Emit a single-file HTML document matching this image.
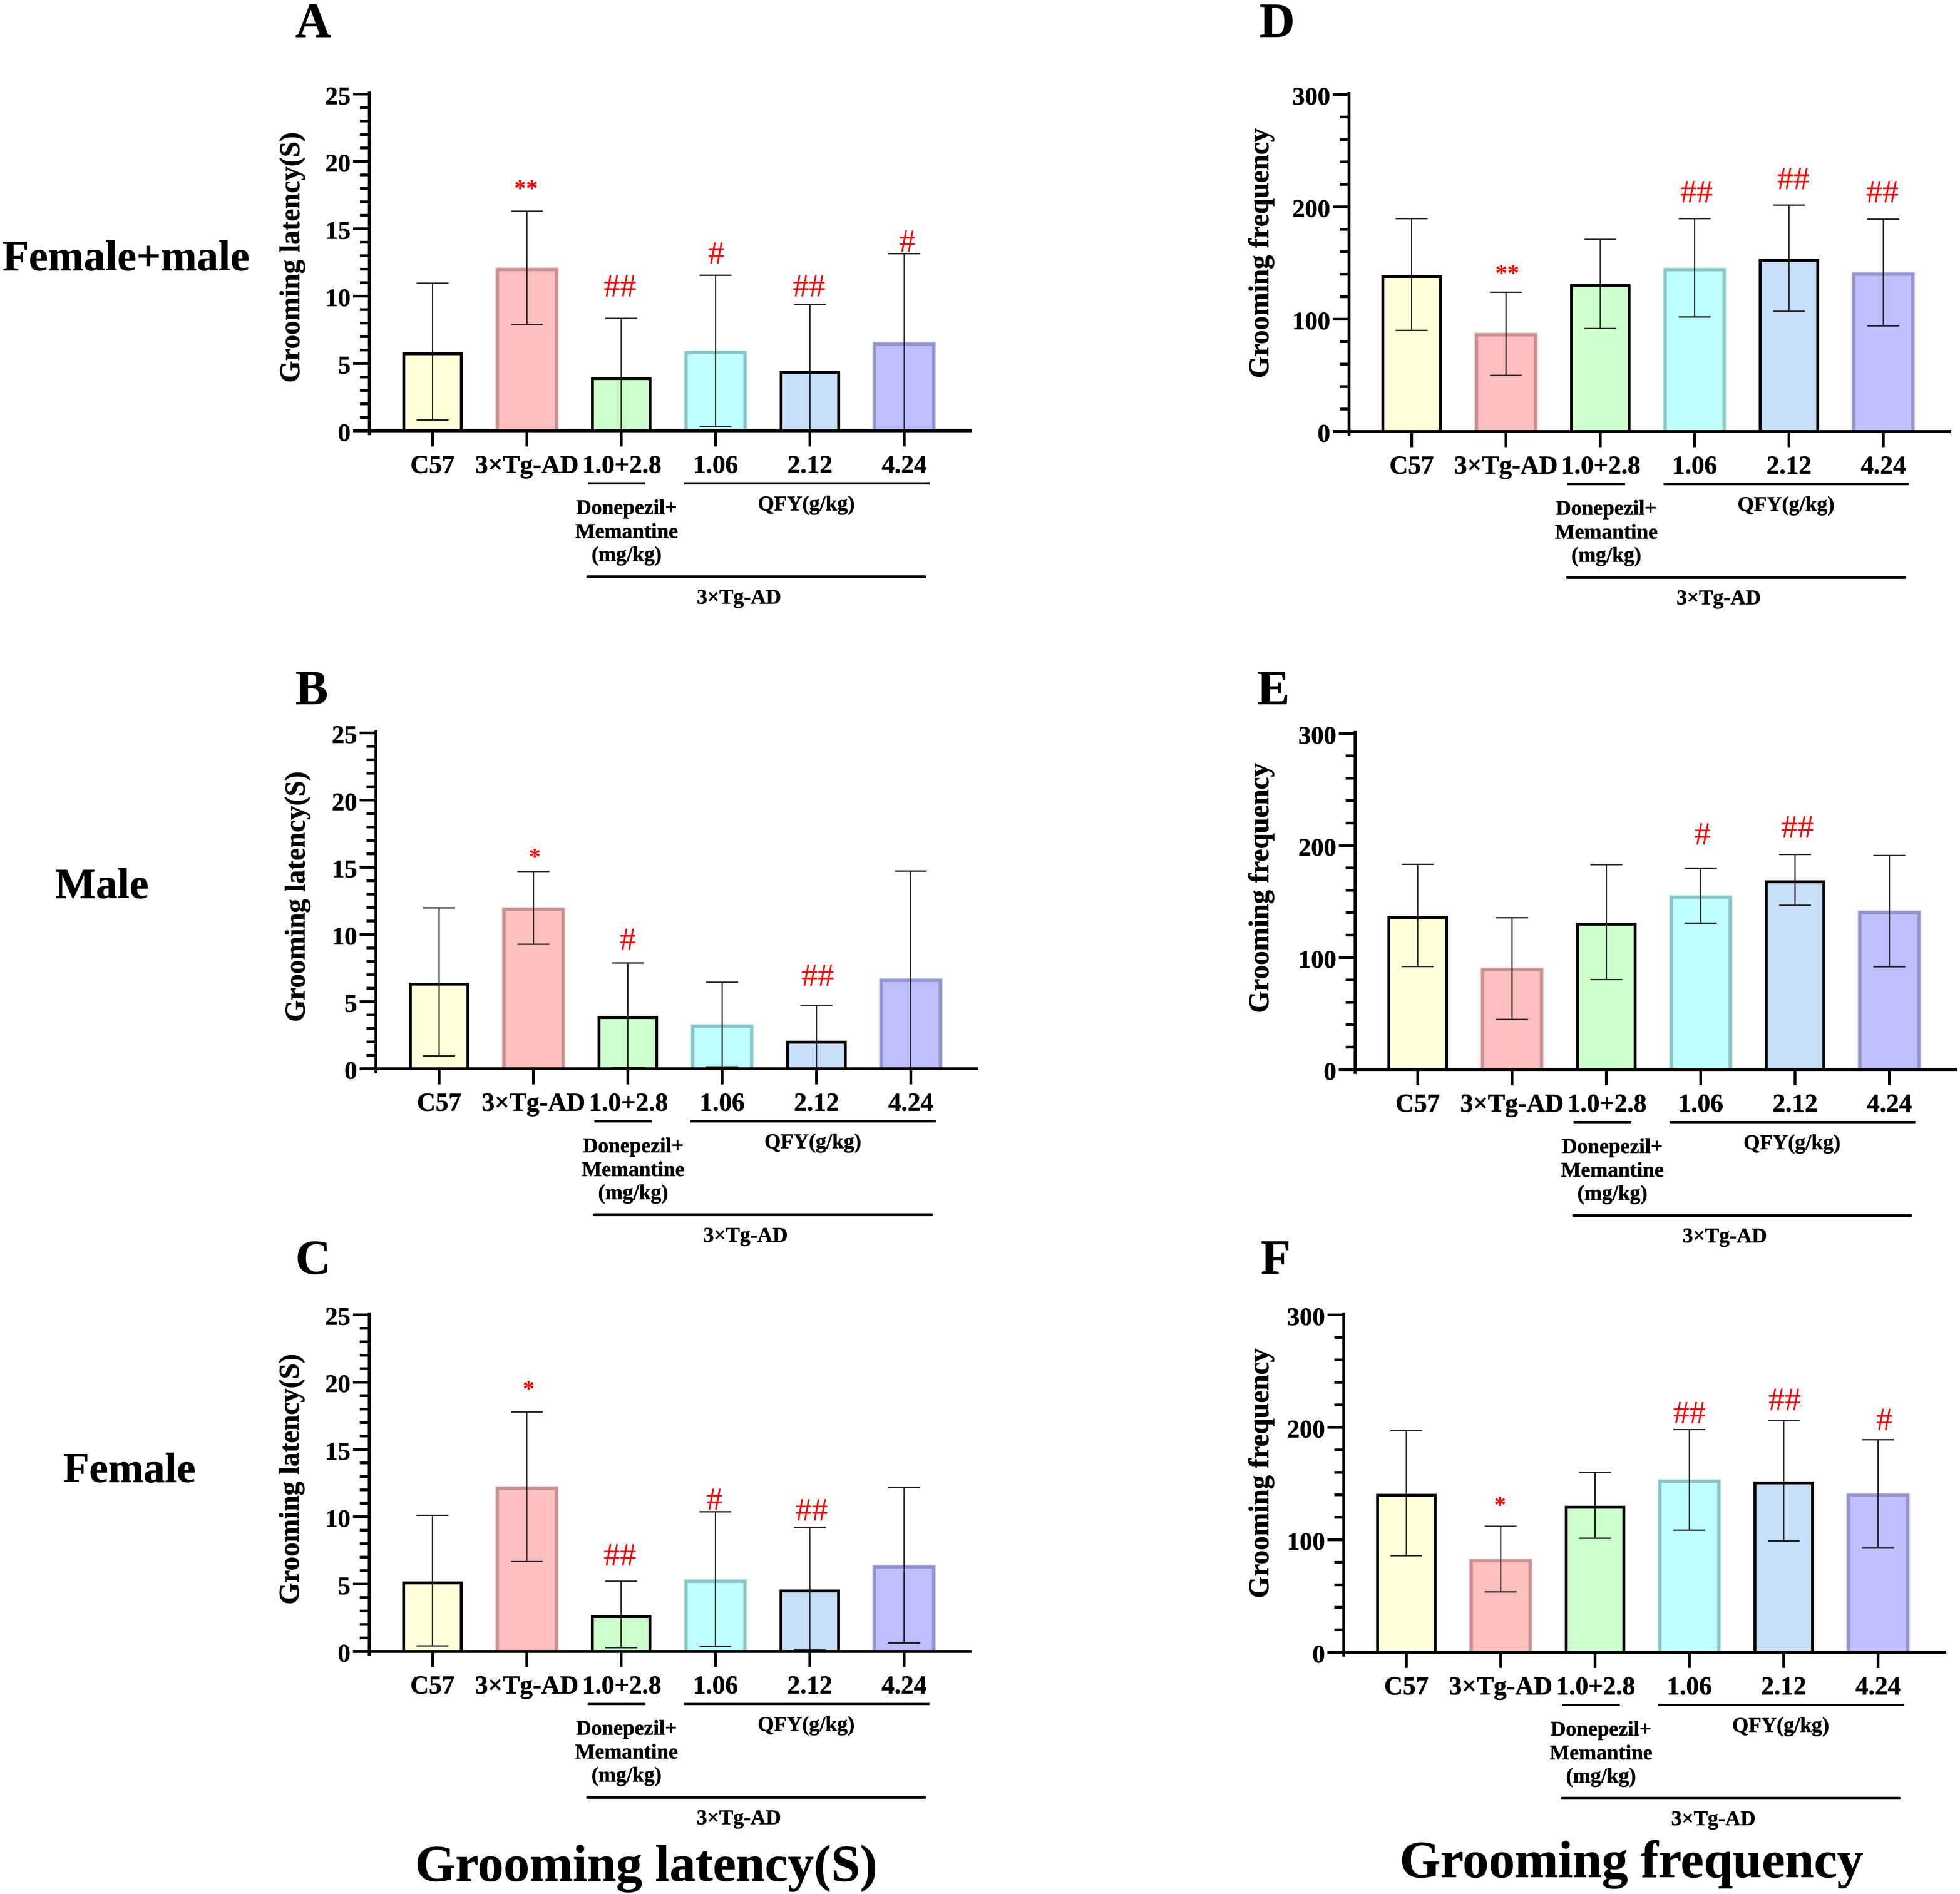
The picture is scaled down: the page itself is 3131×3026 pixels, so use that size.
<!DOCTYPE html>
<html lang="en">
<head>
<meta charset="utf-8">
<title>Grooming latency and frequency</title>
<style>
html,body{margin:0;padding:0;background:#fff;}
svg{display:block;}
text{font-family:"Liberation Serif",serif;font-weight:700;fill:#000;stroke:#000;stroke-width:0.5px;}
</style>
</head>
<body>
<svg id="figure" xmlns="http://www.w3.org/2000/svg" width="3131" height="3026" viewBox="0 0 3131 3026">
  <rect x="0" y="0" width="3131" height="3026" fill="#fff"/>
  <text x="472" y="59" font-size="78">A</text>
  <text x="472" y="1125" font-size="78">B</text>
  <text x="472" y="2035" font-size="78">C</text>
  <text x="2012" y="59" font-size="78">D</text>
  <text x="2008" y="1125" font-size="78">E</text>
  <text x="2014" y="2035" font-size="78">F</text>
  <text x="4" y="432" font-size="68.8">Female+male</text>
  <text x="88" y="1435" font-size="69">Male</text>
  <text x="101" y="2368" font-size="68">Female</text>
  <text x="663" y="3005" font-size="83">Grooming latency(S)</text>
  <text x="2236" y="2999" font-size="83.4">Grooming frequency</text>
</svg>
<script>
const categories = ["C57", "3×Tg-AD", "1.0+2.8", "1.06", "2.12", "4.24"];
const latencyTicks = [0, 5, 10, 15, 20, 25];
const frequencyTicks = [0, 100, 200, 300];
const latencyMinorPerMajor = 4;
const frequencyMinorPerMajor = 4;

const meansA = [5.72, 11.97, 3.88, 5.8, 4.35, 6.43];
const upperA = [10.96, 16.3, 8.35, 11.55, 9.36, 13.15];
const lowerA = [0.8, 7.88, null, 0.3, null, null];
const markTextA = ["", "**", "##", "#", "##", "#"];
const markLevelA = [null, 18.28, 10.78, 13.2, 10.78, 14.1];

const meansB = [6.3, 11.86, 3.81, 3.16, 1.98, 6.58];
const upperB = [11.98, 14.69, 7.88, 6.44, 4.72, 14.72];
const lowerB = [0.96, 9.27, 0.08, 0.14, null, null];
const markTextB = ["", "*", "#", "", "##", ""];
const markLevelB = [null, 16.05, 9.66, null, 6.98, null];

const meansC = [5.09, 12.1, 2.59, 5.21, 4.49, 6.26];
const upperC = [10.11, 17.79, 5.21, 10.37, 9.2, 12.17];
const lowerC = [0.41, 6.67, 0.28, 0.35, 0.1, 0.63];
const markTextC = ["", "*", "##", "#", "##", ""];
const markLevelC = [null, 19.78, 7.17, 11.31, 10.52, null];

const meansD = [138, 86, 130, 144, 152.5, 140];
const upperD = [189.5, 124, 171, 189.5, 201.6, 189];
const lowerD = [90, 50, 91.7, 102, 107, 94];
const markTextD = ["", "**", "", "##", "##", "##"];
const markLevelD = [null, 144.3, null, 213.6, 225.4, 213.6];

const meansE = [135.8, 89, 129.7, 153.7, 167.6, 139.9];
const upperE = [183.2, 135.5, 182.9, 179.8, 192, 191];
const lowerE = [92, 44.7, 80.3, 130.7, 146.6, 91.8];
const markTextE = ["", "", "", "#", "##", ""];
const markLevelE = [null, null, null, 210.6, 216.7, null];

const meansF = [139.6, 81.3, 129, 152, 150.6, 139.6];
const upperF = [197, 112, 160, 198, 206, 189];
const lowerF = [85.9, 53.7, 101.4, 108.6, 99, 92.7];
const markTextF = ["", "*", "", "##", "##", "#"];
const markLevelF = [null, 134.3, null, 213.4, 225, 207.3];

const NS = "http://www.w3.org/2000/svg";
const root = document.getElementById("figure");

const barStyles = [
  {fill:"#ffffdc", stroke:"#000000", halo:null, inset:92, sw:4.6},
  {fill:"#ffbfbf", stroke:"#c49292", halo:"#fbd0d0", inset:94, sw:5},
  {fill:"#ccffcc", stroke:"#000000", halo:null, inset:92, sw:4.6},
  {fill:"#bfffff", stroke:"#8cc4c4", halo:"#c8f6f6", inset:94, sw:5},
  {fill:"#c8dff8", stroke:"#000000", halo:null, inset:92, sw:4.6},
  {fill:"#bfbfff", stroke:"#9494c8", halo:"#cfcff8", inset:94, sw:5}
];

const panels = [
  {id:"a", ox:590,    oy:688.3,  h:538,   first:101,   yTitle:"Grooming latency(S)", ticks:latencyTicks, minor:latencyMinorPerMajor, means:meansA, upper:upperA, lower:lowerA, markText:markTextA, markLevel:markLevelA, markShift:[0,-1.5,-2,1,-1.5,5], titleX:-112, titleY:-277},
  {id:"b", ox:600.5,  oy:1707.6, h:536.6, first:101,   yTitle:"Grooming latency(S)", ticks:latencyTicks, minor:latencyMinorPerMajor, means:meansB, upper:upperB, lower:lowerB, markText:markTextB, markLevel:markLevelB, markShift:[0,2,0,0,2,0], titleX:-114, titleY:-275},
  {id:"c", ox:589.8,  oy:2638.4, h:537.7, first:101,   yTitle:"Grooming latency(S)", ticks:latencyTicks, minor:latencyMinorPerMajor, means:meansC, upper:upperC, lower:lowerC, markText:markTextC, markLevel:markLevelC, markShift:[0,3,-2,-1.5,3,0], titleX:-113, titleY:-275},
  {id:"d", ox:2155,   oy:689.4,  h:538.4, first:100,   yTitle:"Grooming frequency",  ticks:frequencyTicks, minor:frequencyMinorPerMajor, means:meansD, upper:upperD, lower:lowerD, markText:markTextD, markLevel:markLevelD, markShift:[0,2,0,3,7,-1.5], titleX:-129, titleY:-285},
  {id:"e", ox:2164.7, oy:1708.8, h:537,   first:100,   yTitle:"Grooming frequency",  ticks:frequencyTicks, minor:frequencyMinorPerMajor, means:meansE, upper:upperE, lower:lowerE, markText:markTextE, markLevel:markLevelE, markShift:[0,0,0,3,4,0], titleX:-138.6, titleY:-290},
  {id:"f", ox:2146.6, oy:2639.8, h:539,   first:100,   yTitle:"Grooming frequency",  ticks:frequencyTicks, minor:frequencyMinorPerMajor, means:meansF, upper:upperF, lower:lowerF, markText:markTextF, markLevel:markLevelF, markShift:[0,-1,0,0,1.5,10], titleX:-120.6, titleY:-286}
];

function make(tag, attrs, parent) {
  const el = document.createElementNS(NS, tag);
  for (const k in attrs) el.setAttribute(k, attrs[k]);
  parent.appendChild(el);
  return el;
}

function barPath(cx, width, top, base) {
  const l = cx - width / 2;
  const r = cx + width / 2;
  return "M" + l + " " + base + "L" + l + " " + top + "L" + r + " " + top + "L" + r + " " + base;
}

function drawPanel(p) {
  const g = make("g", {}, root);
  
  

  const yMax = p.ticks[p.ticks.length - 1];
  const yScale = function (v) { return p.oy - (v / yMax) * p.h; };
  const xScale = function (i) { return p.ox + p.first + i * 150.7; };

  // bars
  p.means.forEach(function (m, i) {
    const s = barStyles[i];
    const cx = xScale(i);
    const top = yScale(m);
    const d = barPath(cx, s.inset, top, p.oy);
    if (s.halo) {
      const halo = make("path", {d:d, fill:"none", stroke:s.halo, "stroke-width":s.sw + 3}, g);
      
      
    }
    const bar = make("path", {d:d, fill:s.fill, stroke:s.stroke, "stroke-width":s.sw}, g);
    
    
  });

  // error bars
  p.means.forEach(function (m, i) {
    const cx = xScale(i);
    const yTop = yScale(p.upper[i]);
    const hasLower = p.lower[i] !== null;
    const yBot = hasLower ? yScale(p.lower[i]) : p.oy;
    const stem = make("line", {x1:cx, x2:cx, y1:yTop, y2:yBot, stroke:"#1c1c1c", "stroke-width":2}, g);
    
    
    const capTop = make("line", {x1:cx - 25.5, x2:cx + 25.5, y1:yTop, y2:yTop, stroke:"#1c1c1c", "stroke-width":2.2}, g);
    
    
    if (hasLower) {
      const capBot = make("line", {x1:cx - 25.5, x2:cx + 25.5, y1:yBot, y2:yBot, stroke:"#1c1c1c", "stroke-width":2.2}, g);
      
      
    }
  });

  // significance marks
  p.markText.forEach(function (txt, i) {
    if (!txt) return;
    const star = txt.charAt(0) === "*";
    const mark = make("text", {
      x:xScale(i) + p.markShift[i],
      y:yScale(p.markLevel[i]) + (star ? 18 : 17),
      "text-anchor":"middle",
      "font-size":star ? 38 : 52,
      style:"fill:#ff0000;stroke:none;font-weight:" + (star ? 700 : 400)
    }, g);
    mark.textContent = txt;
    
    
  });

  // y axis
  const yAxis = make("line", {x1:p.ox, x2:p.ox, y1:yScale(yMax) - 4, y2:p.oy + 7, stroke:"#000", "stroke-width":4.6}, g);
  
  

  p.ticks.forEach(function (t, k) {
    const y = yScale(t);
    const major = make("line", {x1:p.ox - 26, x2:p.ox, y1:y, y2:y, stroke:"#000", "stroke-width":4.4}, g);
    
    
    const lab = make("text", {x:p.ox - 30, y:y + 16, "text-anchor":"end", "font-size":40.5}, g);
    lab.textContent = String(t);
    
    
    if (k < p.ticks.length - 1) {
      const step = (p.ticks[k + 1] - t) / (p.minor + 1);
      for (let m = 1; m <= p.minor; m++) {
        const my = yScale(t + m * step);
        const minor = make("line", {x1:p.ox - 15, x2:p.ox, y1:my, y2:my, stroke:"#000", "stroke-width":4.4}, g);
        
        
      }
    }
  });

  const yTitle = make("text", {
    transform:"translate(" + (p.ox + p.titleX) + "," + (p.oy + p.titleY) + ") rotate(-90)",
    "text-anchor":"middle",
    "font-size":45
  }, g);
  yTitle.textContent = p.yTitle;
  
  

  // x axis
  const xAxis = make("line", {x1:p.ox - 26, x2:p.ox + 962, y1:p.oy, y2:p.oy, stroke:"#000", "stroke-width":4.6}, g);
  
  

  categories.forEach(function (c, i) {
    const cx = xScale(i);
    const tick = make("line", {x1:cx, x2:cx, y1:p.oy, y2:p.oy + 25, stroke:"#000", "stroke-width":4.4}, g);
    
    
    const lab = make("text", {x:cx + (i === 2 ? 1 : 0), y:p.oy + 67, "text-anchor":"middle", "font-size":41.2}, g);
    lab.textContent = c;
    
    
  });

  // group annotations
  const drugBar = make("line", {x1:p.ox + 349, x2:p.ox + 441, y1:p.oy + 84, y2:p.oy + 84, stroke:"#000", "stroke-width":3.6}, g);
  
  

  const qfyBar = make("line", {x1:p.ox + 502.5, x2:p.ox + 895, y1:p.oy + 84, y2:p.oy + 84, stroke:"#000", "stroke-width":3.6}, g);
  
  

  const modelBar = make("line", {x1:p.ox + 349, x2:p.ox + 887.5, y1:p.oy + 233.2, y2:p.oy + 233.2, stroke:"#000", "stroke-width":4.6, "stroke-linecap":"round"}, g);
  
  

  const drug1 = make("text", {x:p.ox + 411, y:p.oy + 133.2, "text-anchor":"middle", "font-size":33.6}, g);
  drug1.textContent = "Donepezil+";
  
  

  const drug2 = make("text", {x:p.ox + 411, y:p.oy + 171.2, "text-anchor":"middle", "font-size":33.6}, g);
  drug2.textContent = "Memantine";
  
  

  const drug3 = make("text", {x:p.ox + 411, y:p.oy + 208.2, "text-anchor":"middle", "font-size":33.6}, g);
  drug3.textContent = "(mg/kg)";
  
  

  const qfy = make("text", {x:p.ox + 698, y:p.oy + 127, "text-anchor":"middle", "font-size":33.6}, g);
  qfy.textContent = "QFY(g/kg)";
  
  

  const model = make("text", {x:p.ox + 590.5, y:p.oy + 276.2, "text-anchor":"middle", "font-size":33.6}, g);
  model.textContent = "3×Tg-AD";
  
  
}

panels.forEach(drawPanel);
</script>
</body>
</html>
